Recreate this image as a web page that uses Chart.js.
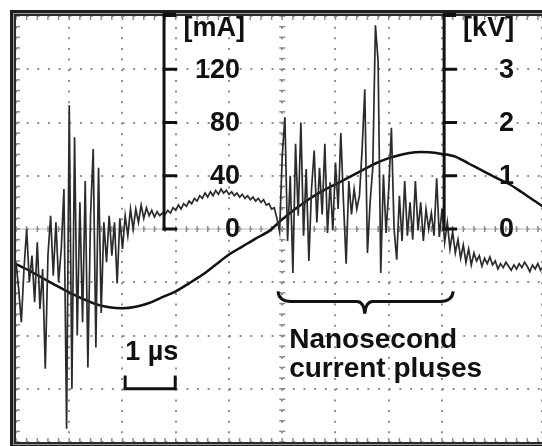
<!DOCTYPE html>
<html>
<head>
<meta charset="utf-8">
<script src="https://cdn.jsdelivr.net/npm/chart.js@4/dist/chart.umd.min.js"></script>
<style>
  html, body { margin: 0; padding: 0; background: #fff; }
  canvas { display: block; }
</style>
</head>
<body>
<canvas id="scope" width="542" height="446"></canvas>
<script>
// time base: one graticule division = 1 µs
const currentStep = 0.05; // µs between current samples
const currentMA = [
  -25, -45, -70, -30, 0, -40, -20, -55, -10, -60,
  -30, -105, -20, 10, -35, 5, -40, -15, 30, -150,
  93, -120, 69, -80, 20, -70, 36, -104, 10, 60,
  -89, 46, -63, 5, -25, 10, -20, 5, -41, 8,
  -15, 10, -5, 15, 0, 15, 5, 18, 8, 16,
  10, 14, 9, 13, 10, 12, 11, 14, 12, 16,
  14, 18, 15, 19, 17, 21, 19, 23, 21, 25,
  23, 27, 24, 28, 25, 29, 26, 30, 27, 29,
  26, 28, 25, 27, 24, 26, 23, 25, 22, 24,
  21, 23, 20, 22, 18, 19, 15, 16, 8, -2,
  55, 84, -9, 40, -33, 64, 10, 80, -5, 45,
  -24, 30, 59, 5, 46, 11, 64, -3, 35, -1,
  50, 15, 72, 20, -26, 36, 11, 30, 15, 25,
  60, 105, -18, 20, 46, 153, 126, -33, 41, -3,
  30, 76, 0, -23, 25, -9, 36, -5, 20, -8,
  36, -1, 20, -9, 15, 0, 12, -5, 38, -6,
  15, -10, 5, -15, -2, -18, -8, -22, -12, -25,
  -15, -27, -18, -24, -20, -28, -22, -26, -21, -27,
  -24, -30, -26, -29, -25, -28, -31, -27, -30, -26,
  -29, -25, -28, -32, -27, -30, -26, -31, -28,
];

const voltageStep = 0.25; // µs between voltage samples
const voltageKV = [
  -0.66, -0.78, -0.92, -1.06, -1.19, -1.31, -1.41, -1.47, -1.49, -1.46,
  -1.39, -1.28, -1.17, -1.02, -0.86, -0.67, -0.48, -0.33, -0.18, -0.04,
  0.18, 0.38, 0.56, 0.71, 0.84, 0.97, 1.10, 1.23, 1.33, 1.40,
  1.44, 1.44, 1.41, 1.36, 1.23, 1.10, 0.97, 0.85, 0.69, 0.52,
  0.35,
];

const mATicks = [0, 40, 80, 120];
const kVTicks = [0, 1, 2, 3];

const FONT = 'bold 27px "Liberation Sans", Arial, sans-serif';
const NOTE_FONT = 'bold 28px "Liberation Sans", Arial, sans-serif';
const DOT = [2, 8.65];

function toPoints(values, step) {
  return values.map((v, i) => ({ x: i * step, y: v }));
}

function seg(ctx, x1, y1, x2, y2) {
  ctx.beginPath();
  ctx.moveTo(x1, y1);
  ctx.lineTo(x2, y2);
  ctx.stroke();
}

const innerAxes = [
  { scale: 'mA', at: 2.78, ticks: mATicks, unit: '[mA]', labelDx: 76, unitDx: 81 },
  { scale: 'kV', at: 8.04, ticks: kVTicks, unit: '[kV]', labelDx: 70, unitDx: 70 },
];

const scopePlugin = {
  id: 'scope',
  beforeDatasetsDraw(chart) {
    const { ctx, chartArea: a, scales } = chart;
    const x = scales.x;
    const y = scales.kV;
    const y0 = y.getPixelForValue(0);
    const xc = x.getPixelForValue(5);
    ctx.save();
    ctx.strokeStyle = '#b8b8b8';
    ctx.lineWidth = 1;
    seg(ctx, a.left, y0, a.right, y0);

    ctx.strokeStyle = '#8c8c8c';
    ctx.lineWidth = 1.5;
    for (let k = 0; k <= 50; k++) {
      const px = x.getPixelForValue(k / 5);
      seg(ctx, px, a.top, px, a.top + 4);
      seg(ctx, px, a.bottom - 4, px, a.bottom);
      seg(ctx, px, y0 - 3, px, y0 + 3);
    }
    for (let k = -20; k <= 20; k++) {
      const py = y.getPixelForValue(k / 5);
      seg(ctx, a.left, py, a.left + 4, py);
      seg(ctx, xc - 3, py, xc + 3, py);
    }
    ctx.restore();
  },
  afterDatasetsDraw(chart) {
    const { ctx, chartArea: a, scales } = chart;
    const x = scales.x;
    const y = scales.kV;
    ctx.save();

    // double frame
    const w = a.right - a.left + 40;
    const h = a.bottom - a.top;
    ctx.strokeStyle = '#1e1e1e';
    ctx.lineWidth = 3;
    ctx.strokeRect(a.left - 4.5, a.top - 4.5, w, h + 9);
    ctx.strokeStyle = '#9a9a9a';
    ctx.lineWidth = 1;
    ctx.strokeRect(a.left - 2.5, a.top - 2.5, w, h + 5);
    ctx.strokeStyle = '#2a2a2a';
    ctx.lineWidth = 2;
    ctx.strokeRect(a.left - 1, a.top - 1, w, h + 2);

    // axes drawn inside the screen
    ctx.font = FONT;
    ctx.fillStyle = '#111';
    ctx.textAlign = 'right';
    ctx.textBaseline = 'middle';
    innerAxes.forEach((ax) => {
      const s = scales[ax.scale];
      const px = x.getPixelForValue(ax.at);
      const yZero = s.getPixelForValue(0);
      ctx.strokeStyle = '#111';
      ctx.lineWidth = 3;
      seg(ctx, px, a.top, px, yZero + 1.5);
      ax.ticks.forEach((v) => {
        const py = s.getPixelForValue(v);
        seg(ctx, px - 1.5, py, px + 13, py);
        ctx.fillText(String(v), px + ax.labelDx, py + 1);
      });
      ctx.lineWidth = 4;
      seg(ctx, px - 1.5, a.top - 1, px + 12, a.top - 1);
      ctx.fillText(ax.unit, px + ax.unitDx, a.top + 13);
    });

    // 1 µs scale bar
    ctx.textAlign = 'left';
    ctx.fillText('1 µs', x.getPixelForValue(2.05), y.getPixelForValue(-2.32));
    const bx1 = x.getPixelForValue(2.05);
    const bx2 = x.getPixelForValue(2.99);
    const bt = y.getPixelForValue(-2.75);
    const bb = y.getPixelForValue(-3.0);
    ctx.lineWidth = 3;
    ctx.strokeStyle = '#111';
    ctx.beginPath();
    ctx.moveTo(bx1, bt);
    ctx.lineTo(bx1, bb);
    ctx.lineTo(bx2, bb);
    ctx.lineTo(bx2, bt);
    ctx.stroke();

    // curly brace under the pulses
    const cx1 = x.getPixelForValue(4.92);
    const cx2 = x.getPixelForValue(8.21);
    const cm = x.getPixelForValue(6.55);
    const ct = y.getPixelForValue(-1.17);
    const cl = y.getPixelForValue(-1.36);
    const cp = y.getPixelForValue(-1.59);
    ctx.beginPath();
    ctx.moveTo(cx1, ct);
    ctx.quadraticCurveTo(cx1 + 1, cl, cx1 + 13, cl);
    ctx.lineTo(cm - 8, cl);
    ctx.quadraticCurveTo(cm - 1, cl, cm, cp);
    ctx.quadraticCurveTo(cm + 1, cl, cm + 8, cl);
    ctx.lineTo(cx2 - 13, cl);
    ctx.quadraticCurveTo(cx2 - 1, cl, cx2, ct);
    ctx.stroke();

    ctx.font = NOTE_FONT;
    ctx.textBaseline = 'alphabetic';
    ctx.fillText('Nanosecond', x.getPixelForValue(5.13), y.getPixelForValue(-2.24));
    ctx.fillText('current pluses', x.getPixelForValue(5.13), y.getPixelForValue(-2.77));
    ctx.restore();
  },
};

const gridOpts = { color: '#8e8e8e', lineWidth: 2, drawTicks: false };

new Chart(document.getElementById('scope'), {
  type: 'line',
  data: {
    datasets: [
      {
        label: 'Current',
        data: toPoints(currentMA, currentStep),
        yAxisID: 'mA',
        borderColor: '#2b2b2b',
        borderWidth: 1.7,
        pointRadius: 0,
        tension: 0,
      },
      {
        label: 'Voltage',
        data: toPoints(voltageKV, voltageStep),
        yAxisID: 'kV',
        borderColor: '#111',
        borderWidth: 2.5,
        pointRadius: 0,
        tension: 0.3,
      },
    ],
  },
  options: {
    responsive: false,
    animation: false,
    devicePixelRatio: 1,
    layout: { padding: { left: 16, top: 16, right: 0, bottom: 4 } },
    plugins: { legend: { display: false }, tooltip: { enabled: false } },
    scales: {
      x: {
        type: 'linear',
        min: 0,
        max: 9.878,
        ticks: { display: false, stepSize: 1 },
        grid: gridOpts,
        border: { display: false, dash: DOT },
      },
      kV: {
        position: 'left',
        min: -4,
        max: 4,
        ticks: { display: false, stepSize: 1 },
        grid: gridOpts,
        border: { display: false, dash: DOT },
      },
      mA: { display: false, min: -160, max: 160 },
    },
  },
  plugins: [scopePlugin],
});
</script>
</body>
</html>
